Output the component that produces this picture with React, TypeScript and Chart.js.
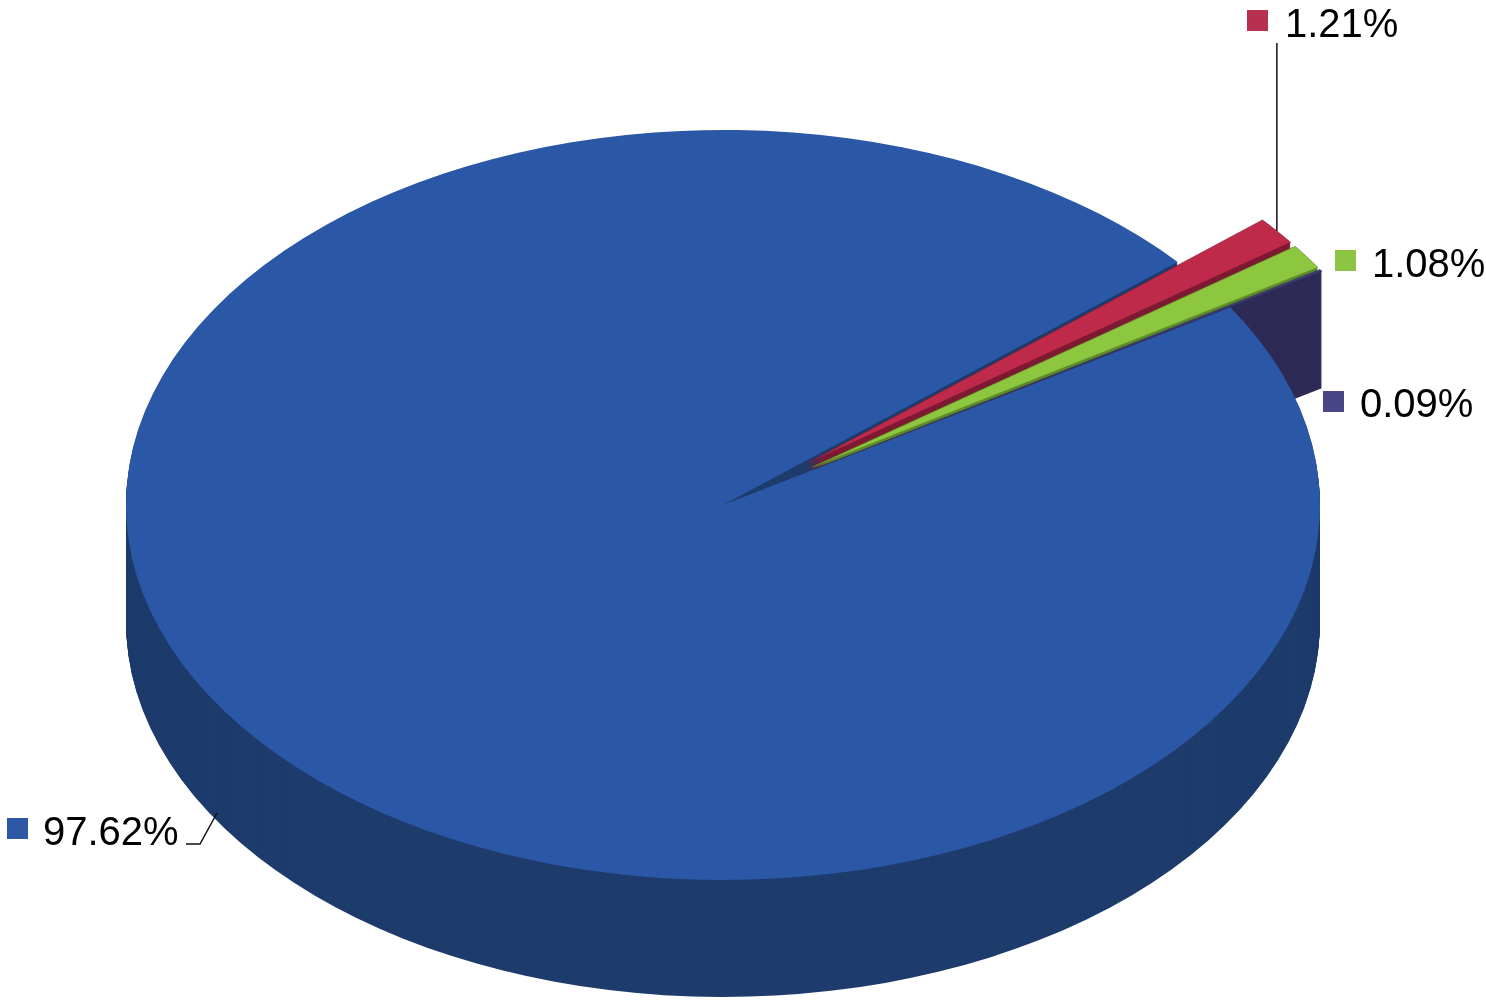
import React, { useEffect, useRef } from 'react';
import { Chart, registerables } from 'chart.js';

Chart.register(...registerables);

// ---- data ----
const categories = ['Category 1', 'Category 2', 'Category 3', 'Category 4'];
const values = [1.21, 1.08, 0.09, 97.62];
const valueLabels = ['1.21%', '1.08%', '0.09%', '97.62%'];
const topColors = ['#BF2A4B', '#8DC63F', '#3F3C78', '#2B57A7'];
const sideColors = ['#7E1A33', '#5C8A2A', '#2E2B56', '#1E3C6C'];
const swatchColors = ['#B8304F', '#8CC444', '#4A4586', '#2C58A6'];
const explodeDist = [108, 108, 108, 0];

// ---- layout ----
const W = 1486;
const H = 1001;
const RX = 597;
const RY = 375;
const K = RY / RX;
const DEPTH = 117;
const START_DEG = 49.6;
const FONT = '40px "Liberation Sans", Arial, sans-serif';

const labelLayout: any[] = [
  { sq: [1247, 10], text: [1285, 37], leaderTop: 43 },
  { sq: [1335, 250], text: [1372, 277] },
  { sq: [1323, 391], text: [1360, 417] },
  { sq: [7, 818], text: [43, 845], path: [[186, 844], [200, 844], [217, 813]] },
];

function squash(ctx: CanvasRenderingContext2D, cy: number) {
  ctx.translate(0, cy * (1 - K));
  ctx.scale(1, K);
}

function shiftOf(arc: any, i: number) {
  const mid = (arc.startAngle + arc.endAngle) / 2;
  const d = explodeDist[i] || 0;
  return [Math.cos(mid) * d, Math.sin(mid) * d];
}

const pie3d = {
  id: 'pie3d',
  beforeDatasetsDraw(chart: any) {
    const ctx: CanvasRenderingContext2D = chart.ctx;
    const arcs = chart.getDatasetMeta(0).data;
    if (!arcs.length) return;
    const cy = arcs[0].y;
    const order = [3, 0, 1, 2];
    // sides (extrusion)
    for (const i of order) {
      const arc = arcs[i];
      const [sx, sy] = shiftOf(arc, i);
      const orig = arc.options;
      arc.options = { ...orig, backgroundColor: sideColors[i], borderColor: sideColors[i], borderWidth: 0 };
      for (let d = DEPTH; d >= 1; d--) {
        ctx.save();
        ctx.translate(0, d);
        squash(ctx, cy);
        ctx.translate(sx, sy);
        arc.draw(ctx);
        ctx.restore();
      }
      arc.options = orig;
    }
    // tops
    for (const i of order) {
      const arc = arcs[i];
      const [sx, sy] = shiftOf(arc, i);
      ctx.save();
      squash(ctx, cy);
      ctx.translate(sx, sy);
      arc.draw(ctx);
      ctx.restore();
    }
    return false;
  },
  afterDraw(chart: any) {
    const ctx: CanvasRenderingContext2D = chart.ctx;
    const arcs = chart.getDatasetMeta(0).data;
    if (!arcs.length) return;
    const cy = arcs[0].y;
    ctx.save();
    ctx.font = FONT;
    ctx.textBaseline = 'alphabetic';
    ctx.textAlign = 'left';
    ctx.strokeStyle = '#111';
    ctx.lineWidth = 1.5;
    labelLayout.forEach((lay, i) => {
      ctx.fillStyle = swatchColors[i];
      ctx.fillRect(lay.sq[0], lay.sq[1], 21, 21);
      ctx.fillStyle = '#000';
      ctx.fillText(valueLabels[i], lay.text[0], lay.text[1]);
      if (lay.leaderTop !== undefined) {
        const arc = arcs[i];
        const [sx, sy] = shiftOf(arc, i);
        const a = arc.startAngle + (arc.endAngle - arc.startAngle) * 0.5;
        const px = arc.x + sx + Math.cos(a) * arc.outerRadius;
        const py = arc.y + sy + Math.sin(a) * arc.outerRadius;
        const scy = cy + (py - cy) * K;
        ctx.beginPath();
        ctx.moveTo(px, lay.leaderTop);
        ctx.lineTo(px, scy);
        ctx.stroke();
      }
      if (lay.path) {
        ctx.beginPath();
        lay.path.forEach((p: number[], j: number) => (j === 0 ? ctx.moveTo(p[0], p[1]) : ctx.lineTo(p[0], p[1])));
        ctx.stroke();
      }
    });
    ctx.restore();
  },
};

export default function App() {
  const ref = useRef<HTMLCanvasElement | null>(null);
  useEffect(() => {
    if (!ref.current) return;
    const chart = new Chart(ref.current, {
      type: 'pie',
      data: {
        labels: categories,
        datasets: [
          {
            data: values,
            backgroundColor: topColors,
            borderColor: sideColors,
            borderWidth: [0.8, 0.8, 0.8, 0],
            clip: false,
          } as any,
        ],
      },
      options: {
        animation: false,
        responsive: true,
        maintainAspectRatio: false,
        devicePixelRatio: 1,
        rotation: START_DEG,
        radius: RX,
        layout: { padding: { left: 0, right: 40, top: 9, bottom: 0 } },
        plugins: { legend: { display: false }, tooltip: { enabled: false } },
        events: [],
      } as any,
      plugins: [pie3d],
    });
    return () => chart.destroy();
  }, []);
  return (
    <div style={{ position: 'fixed', left: 0, top: 0, width: W, height: H, background: '#fff' }}>
      <canvas ref={ref} />
    </div>
  );
}
